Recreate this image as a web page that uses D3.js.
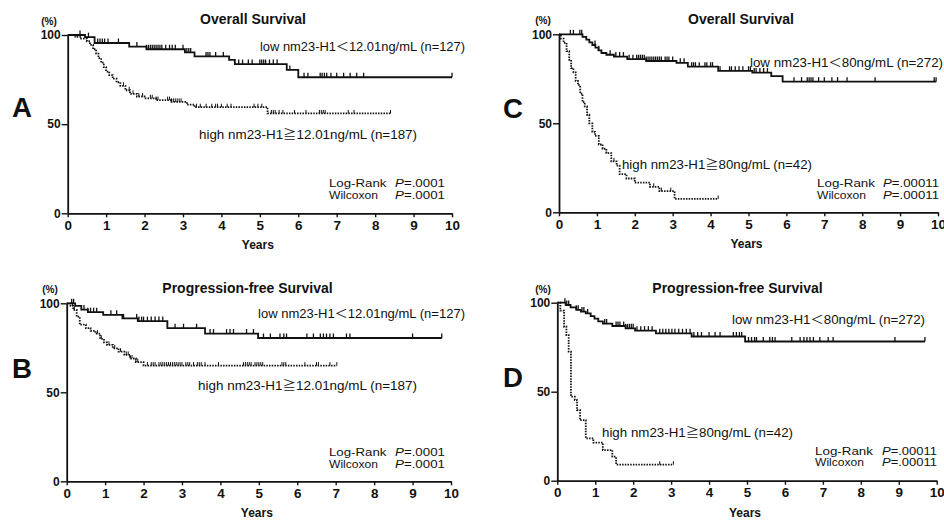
<!DOCTYPE html>
<html><head><meta charset="utf-8">
<script src="https://cdn.jsdelivr.net/npm/d3@7"></script>
<style>
body{margin:0;background:#fff}
svg{display:block}
text{font-family:"Liberation Sans",Arial,Helvetica,sans-serif;fill:#111}
</style>
</head><body>
<svg id="chart" width="944" height="520"></svg>
<script>
// ---------- tick labels ----------
const xTicks = [0,1,2,3,4,5,6,7,8,9,10];
const yTicks = [0,50,100];

// ---------- Panel A : Overall survival, cut-off 12.01 ng/mL ----------
const aLowTimes = [0,0.45,0.7,1.6,2.05,3.05,3.3,4.2,4.35,5.7,6.0];
const aLowSurv  = [100,98.8,95.5,93.5,92,90.2,88,86,83.7,80.4,76.3];
const aLowCens  = [0.32,0.54,0.78,0.84,0.9,0.96,1.05,1.32,1.8,2.05,2.1,2.15,2.2,2.25,2.3,2.35,2.4,2.45,2.55,2.65,2.72,2.8,3.0,3.1,3.15,3.2,3.6,3.65,3.7,3.85,4.05,4.45,4.55,4.7,4.8,5.0,5.05,5.1,5.15,5.25,5.35,5.45,5.78,6.15,6.25,6.57,6.62,6.68,6.74,6.85,7.0,7.18,7.35,7.52,7.7,10.0];
const aHighTimes = [0,0.2,0.35,0.5,0.58,0.66,0.74,0.8,0.87,0.94,1.0,1.08,1.17,1.27,1.37,1.5,1.62,1.8,2.0,2.3,2.7,3.1,3.3,5.2];
const aHighSurv  = [100,99,98,96.5,94.5,92,89.5,87,84.5,82,79.5,77.5,75.5,73.5,71.5,69,67,65.5,64.5,63.5,62.5,61,59.5,56];
const aHighCens  = [1.45,1.6,1.7,1.85,1.95,2.15,2.2,2.3,2.35,2.6,2.65,2.7,2.75,2.8,2.85,2.9,2.95,3.35,3.45,3.6,3.75,3.85,3.9,4.0,4.15,4.25,4.85,4.95,5.05,5.3,5.35,5.4,5.5,5.6,5.9,6.2,6.55,6.6,6.65,6.7,7.3,7.45,8.4];

// ---------- Panel B : Progression-free survival, cut-off 12.01 ng/mL ----------
const bLowTimes = [0,0.22,0.38,0.55,0.95,1.45,1.85,2.62,3.6,4.98];
const bLowSurv  = [100,98.5,96.5,95,93.5,91.5,90,86,83,80.5];
const bLowCens  = [0.13,0.18,0.45,0.55,0.62,0.7,0.78,1.15,1.3,1.48,1.82,1.88,1.95,2.0,2.1,2.2,2.3,2.4,2.5,2.82,3.04,3.38,3.73,3.82,4.16,4.25,4.34,4.68,4.86,5.12,5.3,5.55,5.65,5.72,6.25,6.42,6.6,6.68,6.76,6.85,6.94,7.28,7.37,9.0,9.76];
const bHighTimes = [0,0.1,0.17,0.26,0.34,0.5,0.62,0.75,0.87,0.97,1.05,1.2,1.35,1.5,1.65,1.8,2.0];
const bHighSurv  = [100,98.5,96.3,92.5,88,86,84.5,83,80,78,76.6,74.7,72.8,71,69,67,65];
const bHighCens  = [0.15,0.2,0.8,0.9,1.1,1.25,1.4,1.55,1.6,1.65,1.7,1.8,1.85,2.1,2.2,2.25,2.3,2.4,2.45,2.5,2.55,2.6,2.65,2.7,2.75,2.8,2.85,2.9,2.95,3.0,3.1,3.15,3.2,3.3,3.4,3.45,3.5,3.6,3.95,4.6,4.65,4.7,4.75,4.8,4.9,4.95,5.0,5.05,5.1,5.6,5.65,5.7,6.2,6.5,6.55,6.85,7.03];

// ---------- Panel C : Overall survival, cut-off 80 ng/mL ----------
const cLowTimes = [0,0.62,0.72,0.8,0.88,0.96,1.04,1.12,1.25,1.45,1.8,2.3,3.1,3.4,4.2,5.1,5.6,5.9];
const cLowSurv  = [100,98.5,97,95.5,94,92.5,91,89.5,88.5,87.5,86,85,84,81.8,79.5,78.5,76.5,73.4];
const cLowCens  = [0.3,0.38,0.55,0.6,0.95,1.05,1.35,1.5,1.6,1.7,1.85,1.95,2.05,2.1,2.15,2.2,2.25,2.3,2.35,2.4,2.45,2.5,2.55,2.6,2.65,2.7,2.8,2.85,2.9,3.0,3.2,3.3,3.5,3.55,3.6,3.7,3.85,3.9,4.0,4.05,4.25,4.5,4.55,4.65,4.75,4.85,5.0,5.05,5.15,5.2,5.3,5.4,5.5,6.2,6.4,6.55,6.6,6.65,6.7,6.85,7.0,7.2,7.35,7.6,8.34,9.9,9.95];
const cHighTimes = [0,0.05,0.12,0.2,0.27,0.32,0.38,0.44,0.5,0.56,0.62,0.68,0.74,0.8,0.88,0.95,1.05,1.15,1.25,1.38,1.52,1.6,1.78,2.0,2.4,2.65,3.05];
const cHighSurv  = [100,97.6,95.2,90.5,85.7,81,78.6,73.8,71.4,66.7,61.9,59.5,54.8,50,45.2,42.9,38.1,35.7,33.3,28.6,26.2,21.4,19,16.7,14.3,11.9,7.5];
const cHighCens  = [1.45,2.5,2.7,2.95,4.2];

// ---------- Panel D : Progression-free survival, cut-off 80 ng/mL ----------
const dLowTimes = [0,0.22,0.35,0.5,0.62,0.75,0.88,0.98,1.08,1.2,1.45,1.8,2.05,2.6,3.54,4.95];
const dLowSurv  = [100,98.7,97.4,96,95,94,92.5,91,89.5,88.3,86.9,85.6,84.3,82.8,81,78.2];
const dLowCens  = [0.2,0.25,0.3,0.5,0.55,0.65,0.7,0.8,1.25,1.3,1.55,1.6,1.65,1.75,1.8,1.85,1.9,1.95,2.0,2.1,2.2,2.3,2.4,2.5,2.7,2.78,2.86,2.94,3.02,3.1,3.2,3.3,3.4,3.5,3.6,3.7,3.8,4.0,4.16,4.29,4.64,4.72,4.8,4.86,5.04,5.12,5.2,5.25,5.43,5.6,5.67,5.74,6.18,6.4,6.5,6.58,6.66,6.75,6.92,7.14,7.27,8.9,9.69];
const dHighTimes = [0,0.08,0.18,0.24,0.3,0.36,0.46,0.52,0.6,0.75,0.95,1.2,1.45,1.55];
const dHighSurv  = [100,95.5,86.5,81.8,72.5,47.2,45.3,39.7,34,23.8,21.4,17.2,13.5,9];
const dHighCens  = [2.7,3.06];

// ---------- texts ----------
const titles = ["Overall Survival","Progression-free Survival","Overall Survival","Progression-free Survival"];
const letters = ["A","B","C","D"];
const lowCut = ["12.01","12.01","80","80"];
const highCut = ["12.01","12.01","80","80"];
const lowN = ["127","127","272","272"];
const highN = ["187","187","42","42"];
const pValues = [".0001",".0001",".00011",".00011"];

// ---------- layout (pixels) ----------
const layouts = [
  {x0:67.7,x1:452,yt:35,yb:213.3, title:[253,19], pct:[49,21], letter:[12,117], low:[260,46.7,205], high:[199,135,218], lr:[329,395,183.3,195.3], lrw:[57.5,49,50]},
  {x0:66.7,x1:451,yt:303.3,yb:481.3, title:[247.5,288], pct:[50,289], letter:[12,378], low:[258,314,207], high:[198,386,219], lr:[329,395,451.7,464], lrw:[57.5,49,50]},
  {x0:559,x1:938,yt:34.3,yb:212.3, title:[741,19], pct:[543,20], letter:[503,118], low:[750,62.7,193], high:[622,165,190], lr:[817,883,183.3,195.3], lrw:[58,49,56]},
  {x0:557.3,x1:936.7,yt:302.7,yb:480.7, title:[737.5,288], pct:[543,289], letter:[503,387], low:[732,319.3,193], high:[602,433,191], lr:[815,882,450.7,462.3], lrw:[58,49,55]}
];

const panelData = [
  {low:[aLowTimes,aLowSurv,aLowCens], high:[aHighTimes,aHighSurv,aHighCens]},
  {low:[bLowTimes,bLowSurv,bLowCens], high:[bHighTimes,bHighSurv,bHighCens]},
  {low:[cLowTimes,cLowSurv,cLowCens], high:[cHighTimes,cHighSurv,cHighCens]},
  {low:[dLowTimes,dLowSurv,dLowCens], high:[dHighTimes,dHighSurv,dHighCens]}
];

const svg = d3.select("#chart");
const ink = "#111";

function drawCurve(g, x, y, times, surv, cens, dotted){
  const end = Math.max(d3.max(cens), times[times.length-1]);
  const pts = times.map((t,i)=>[t,surv[i]]);
  pts.push([end, surv[surv.length-1]]);
  const line = d3.line().x(d=>x(d[0])).y(d=>y(d[1])).curve(d3.curveStepAfter);
  g.append("path").attr("d", line(pts))
    .attr("fill","none").attr("stroke",ink)
    .attr("stroke-width", dotted?1.8:1.8)
    .attr("stroke-dasharray", dotted?"1.5 1.2":null);
  const bis = d3.bisector(d=>d).right;
  g.selectAll(null).data(cens).enter().append("line")
    .attr("x1",d=>x(d)).attr("x2",d=>x(d))
    .attr("y1",d=>y(surv[Math.max(0,bis(times,d)-1)]))
    .attr("y2",d=>y(surv[Math.max(0,bis(times,d)-1)]) - (dotted?3.5:4.5))
    .attr("stroke",ink).attr("stroke-width",dotted?1:1.3);
}

function groupLabel(g, xPos, yc, width, prefix, sym, cut, n){
  const t = g.append("text").attr("x",xPos).attr("y",yc+4.3)
    .style("font-size","12px").attr("textLength",width).attr("lengthAdjust","spacingAndGlyphs");
  t.append("tspan").text(prefix + " nm23-H1");
  t.append("tspan").style("font-family",'"Noto Sans CJK JP","DejaVu Sans",sans-serif').style("font-size","12px").text(sym);
  t.append("tspan").text(cut + "ng/mL (n=" + n + ")");
}

layouts.forEach((p,k)=>{
  const g = svg.append("g");
  const x = d3.scaleLinear().domain([0,10]).range([p.x0,p.x1]);
  const y = d3.scaleLinear().domain([0,100]).range([p.yb,p.yt]);

  const xa = g.append("g").attr("transform",`translate(0,${p.yb})`)
    .call(d3.axisBottom(x).tickValues(xTicks).tickSize(4).tickSizeOuter(0).tickPadding(4));
  const ya = g.append("g").attr("transform",`translate(${p.x0},0)`)
    .call(d3.axisLeft(y).tickValues(yTicks).tickSize(6).tickSizeOuter(0).tickPadding(1));
  [xa,ya].forEach(a=>{
    a.select(".domain").attr("stroke",ink).attr("stroke-width",1.8);
    a.selectAll(".tick line").attr("stroke",ink).attr("stroke-width",1.4);
    a.selectAll(".tick text").attr("fill",ink).style("font-size","12px").style("font-weight","bold")
      .style("font-family",'"Liberation Sans",Arial,sans-serif');
  });
  xa.selectAll(".tick text").attr("transform","scale(1.12,1)");
  xa.selectAll(".tick").each(function(d){
    d3.select(this).select("text").attr("x", 0);
  });

  drawCurve(g,x,y,...panelData[k].low,false);
  drawCurve(g,x,y,...panelData[k].high,true);

  g.append("text").attr("x",(p.x0+p.x1)/2 - 2).attr("y",p.yb+36).attr("text-anchor","middle")
    .style("font-size","12px").style("font-weight","bold").text("Years");
  g.append("text").attr("x",p.title[0]).attr("y",p.title[1]+5).attr("text-anchor","middle")
    .style("font-size","14px").style("font-weight","bold").text(titles[k]);
  g.append("text").attr("x",p.pct[0]).attr("y",p.pct[1]+3.5).attr("text-anchor","middle")
    .style("font-size","10px").style("font-weight","bold").text("(%)");
  g.append("text").attr("x",p.letter[0]).attr("y",p.letter[1])
    .style("font-size","27px").style("font-weight","bold")
    .attr("textLength",20).attr("lengthAdjust","spacingAndGlyphs").text(letters[k]);
  groupLabel(g, p.low[0], p.low[1], p.low[2], "low", "\uFF1C", lowCut[k], lowN[k]);
  groupLabel(g, p.high[0], p.high[1], p.high[2], "high", "\u2267", highCut[k], highN[k]);
  const rows = [["Log-Rank",p.lr[2],p.lrw[0]],["Wilcoxon",p.lr[3],p.lrw[1]]];
  rows.forEach(r=>{
    g.append("text").attr("x",p.lr[0]).attr("y",r[1]+3.8).style("font-size","10.5px")
      .attr("textLength",r[2]).attr("lengthAdjust","spacingAndGlyphs").text(r[0]);
    const t = g.append("text").attr("x",p.lr[1]).attr("y",r[1]+3.8).style("font-size","10.5px")
      .attr("textLength",p.lrw[2]).attr("lengthAdjust","spacingAndGlyphs");
    t.append("tspan").style("font-style","italic").text("P");
    t.append("tspan").text("="+pValues[k]);
  });
});
</script>
</body></html>
